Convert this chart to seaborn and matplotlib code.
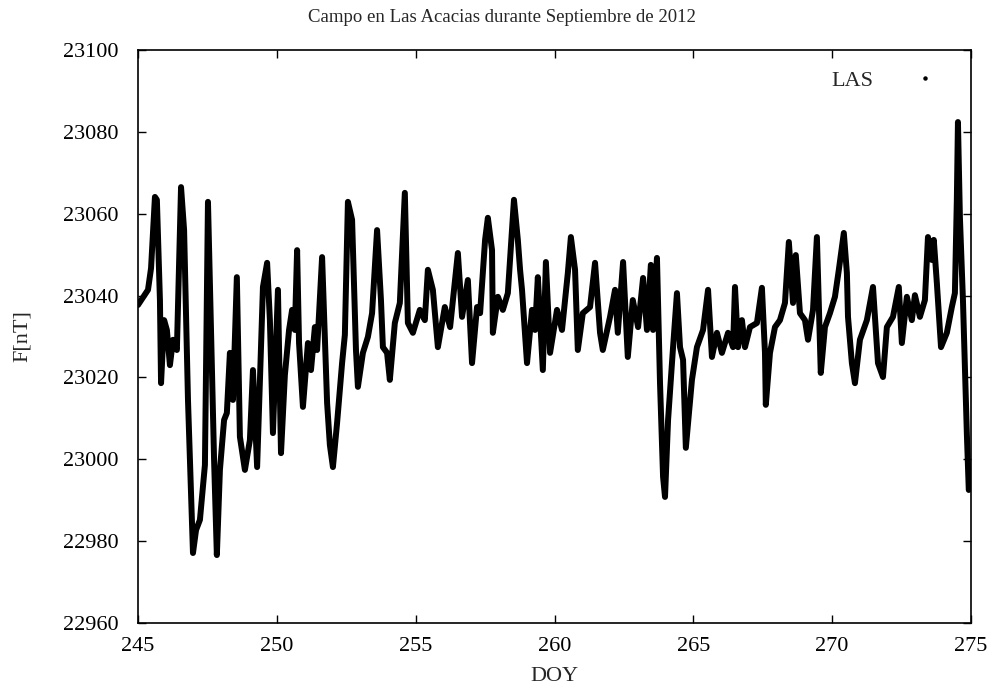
import matplotlib
matplotlib.use("Agg")
import matplotlib.pyplot as plt
import seaborn as sns
import pandas as pd

# Day of year (Sept 2012) and total field F at Las Acacias (LAS)
doy = [
    245.00, 245.36, 245.47, 245.61, 245.68, 245.79, 245.83, 245.94, 246.04, 246.15,
    246.26, 246.40, 246.55, 246.66, 246.80, 246.98, 247.09, 247.23, 247.41, 247.52,
    247.63, 247.74, 247.84, 247.95, 248.10, 248.20, 248.31, 248.42, 248.56, 248.67,
    248.85, 249.03, 249.14, 249.29, 249.50, 249.65, 249.75, 249.86, 250.04, 250.15,
    250.29, 250.44, 250.55, 250.65, 250.73, 250.80, 250.94, 251.12, 251.23, 251.37,
    251.45, 251.63, 251.81, 251.91, 252.02, 252.17, 252.35, 252.45, 252.56, 252.71,
    252.85, 252.92, 253.10, 253.28, 253.43, 253.61, 253.75, 253.82, 253.97, 254.07,
    254.25, 254.43, 254.61, 254.72, 254.90, 255.15, 255.33, 255.44, 255.62, 255.80,
    256.05, 256.24, 256.52, 256.67, 256.88, 257.03, 257.21, 257.32, 257.50, 257.60,
    257.75, 257.78, 257.96, 258.14, 258.32, 258.54, 258.68, 258.76, 258.83, 259.01,
    259.19, 259.30, 259.40, 259.58, 259.69, 259.84, 260.09, 260.27, 260.48, 260.59,
    260.74, 260.84, 261.02, 261.28, 261.46, 261.64, 261.74, 262.00, 262.18, 262.28,
    262.47, 262.64, 262.82, 263.01, 263.19, 263.33, 263.47, 263.55, 263.69, 263.80,
    263.91, 263.98, 264.09, 264.27, 264.41, 264.52, 264.63, 264.73, 264.95, 265.13,
    265.35, 265.53, 265.67, 265.85, 266.03, 266.25, 266.43, 266.50, 266.61, 266.75,
    266.86, 267.04, 267.29, 267.47, 267.58, 267.61, 267.76, 267.94, 268.12, 268.30,
    268.44, 268.59, 268.69, 268.84, 269.02, 269.13, 269.31, 269.45, 269.59, 269.74,
    269.92, 270.10, 270.24, 270.42, 270.53, 270.57, 270.71, 270.82, 271.00, 271.25,
    271.47, 271.65, 271.83, 271.97, 272.19, 272.40, 272.51, 272.69, 272.87, 272.98,
    273.16, 273.34, 273.45, 273.59, 273.66, 273.77, 273.92, 274.13, 274.31, 274.42,
    274.49, 274.53, 274.60, 274.71, 274.78, 274.85, 274.92,
]
field_nt = [
    23037.7, 23041.4, 23046.7, 23064.1, 23063.4, 23038.9, 23018.6, 23034.0, 23031.6, 23023.0,
    23029.2, 23026.7, 23066.5, 23056.0, 23014.5, 22977.1, 22982.7, 22985.2, 22998.6, 23062.9,
    23031.6, 22999.8, 22976.6, 22997.4, 23009.6, 23011.3, 23026.0, 23014.5, 23044.5, 23005.5,
    22997.4, 23004.7, 23021.8, 22998.1, 23042.1, 23048.0, 23034.0, 23006.4, 23041.4, 23001.5,
    23020.6, 23031.6, 23036.5, 23031.6, 23051.1, 23028.4, 23012.8, 23028.4, 23021.8, 23032.3,
    23026.7, 23049.4, 23013.8, 23003.5, 22998.1, 23008.9, 23023.5, 23030.4, 23062.9, 23058.5,
    23026.7, 23017.7, 23026.0, 23029.9, 23035.7, 23056.0, 23038.9, 23027.4, 23026.0, 23019.4,
    23033.3, 23038.2, 23065.1, 23033.3, 23030.9, 23036.5, 23034.0, 23046.3, 23041.4, 23027.4,
    23037.2, 23032.3, 23050.4, 23034.8, 23043.8, 23023.5, 23037.2, 23035.7, 23053.6, 23059.0,
    23051.1, 23030.9, 23039.7, 23036.5, 23040.6, 23063.4, 23053.6, 23046.3, 23041.4, 23023.5,
    23036.5, 23031.6, 23044.5, 23021.8, 23048.2, 23026.0, 23036.5, 23031.6, 23045.5, 23054.3,
    23046.3, 23026.7, 23035.7, 23037.2, 23048.0, 23030.9, 23026.7, 23034.8, 23041.4, 23030.9,
    23048.2, 23025.0, 23038.9, 23032.3, 23044.3, 23031.6, 23047.5, 23031.6, 23049.2, 23018.6,
    22995.7, 22990.8, 23009.6, 23027.4, 23040.6, 23027.4, 23024.3, 23002.8, 23019.4, 23027.4,
    23031.6, 23041.4, 23025.0, 23030.9, 23026.0, 23030.9, 23027.4, 23042.1, 23027.4, 23034.0,
    23027.4, 23032.3, 23033.3, 23041.9, 23026.0, 23013.3, 23026.0, 23032.3, 23034.0, 23038.2,
    23053.1, 23038.2, 23049.9, 23035.7, 23034.0, 23029.2, 23036.5, 23054.3, 23021.1, 23032.3,
    23035.7, 23039.7, 23046.3, 23055.3, 23045.5, 23034.8, 23023.5, 23018.6, 23029.2, 23034.0,
    23042.1, 23023.5, 23020.1, 23032.3, 23034.8, 23042.1, 23028.4, 23039.7, 23034.0, 23040.1,
    23034.8, 23038.9, 23054.3, 23048.7, 23053.6, 23043.1, 23027.4, 23030.9, 23037.2, 23040.6,
    23063.4, 23082.4, 23059.2, 23038.9, 23022.6, 23006.4, 22992.5,
]

x_ticks = [245, 250, 255, 260, 265, 270, 275]
y_ticks = [22960, 22980, 23000, 23020, 23040, 23060, 23080, 23100]

df = pd.DataFrame({"DOY": doy, "F": field_nt})

sns.set_style("ticks")
plt.rcParams["font.family"] = ["Liberation Serif", "DejaVu Serif"]

fig = plt.figure(figsize=(9.93, 6.93), dpi=100)
ax = fig.add_axes([138 / 993, 1 - 623 / 693, (971 - 138) / 993, (623 - 50) / 693])

line_ax = sns.lineplot(data=df, x="DOY", y="F", ax=ax, color="black", linewidth=4.3,
                       sort=False, estimator=None, legend=False)
for ln in line_ax.get_lines():
    ln.set_solid_joinstyle("round")
    ln.set_solid_capstyle("round")

# legend entry: label followed by a single dot
ax.plot([], [], linestyle="none", marker="o", markersize=2.2, color="black", label="LAS")
ax.legend(loc="upper right", frameon=False, markerfirst=False, fontsize=16,
          handlelength=2.0, handletextpad=1.3, borderaxespad=0.5,
          bbox_to_anchor=(0.995, 1.0))

ax.set_xlim(245, 275)
ax.set_ylim(22960, 23100)
ax.set_xticks(x_ticks)
ax.set_yticks(y_ticks)
ax.tick_params(direction="in", length=6, width=1, top=True, right=True,
               labelsize=16, colors="black")
ax.tick_params(axis="y", pad=14)
ax.tick_params(axis="x", pad=10)
for side in ["top", "bottom", "left", "right"]:
    ax.spines[side].set_visible(True)
    ax.spines[side].set_linewidth(1.2)
    ax.spines[side].set_color("black")

ax.set_xlabel("DOY", fontsize=16, labelpad=8)
ax.set_ylabel("F[nT]", fontsize=16)
ax.yaxis.set_label_coords(-0.127, 0.5)
fig.text(0.505, 1 - 18 / 693, "Campo en Las Acacias durante Septiembre de 2012",
         ha="center", va="center", fontsize=13.5)

fig.savefig("out.png", dpi=100)
